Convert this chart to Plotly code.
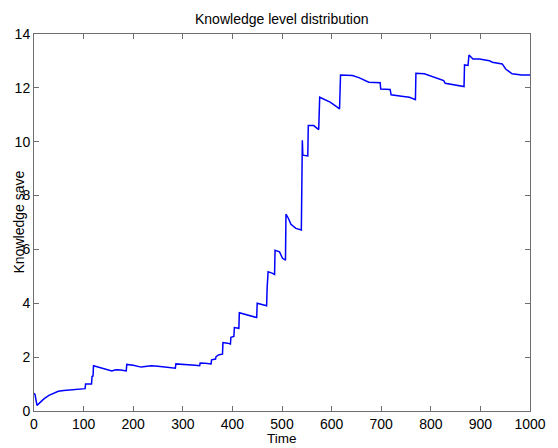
import plotly.graph_objects as go

time = [0, 2, 6, 12, 20, 30, 40, 49, 60, 75, 90, 103, 104, 116, 117, 119, 120, 130, 145, 157,
        163, 167, 175, 186, 187, 200, 216, 225, 236, 250, 262, 275, 285, 286, 300, 314, 325, 334,
        335, 345, 357, 358, 366, 367, 373, 380, 381, 390, 396, 397, 403, 404, 413, 414, 430, 440,
        449, 450, 460, 469, 470, 472, 480, 485, 486, 495, 501, 507, 508, 513, 518, 528, 539, 541,
        542, 552, 553, 564, 574, 576, 586, 597, 610, 616, 618, 642, 655, 662, 675, 698, 699, 718,
        720, 741, 757, 769, 770, 787, 806, 826, 829, 846, 867, 868, 875, 877, 885, 898, 918, 924,
        944, 951, 964, 983, 1000]
knowledge = [0.66, 0.62, 0.21, 0.32, 0.45, 0.58, 0.65, 0.73, 0.76, 0.79, 0.81, 0.83, 1.0, 1.0, 1.28,
             1.3, 1.68, 1.63, 1.55, 1.49, 1.52, 1.53, 1.52, 1.49, 1.73, 1.70, 1.63, 1.64, 1.68, 1.66,
             1.63, 1.61, 1.59, 1.75, 1.74, 1.72, 1.70, 1.68, 1.78, 1.77, 1.75, 1.90, 1.93, 2.02, 2.09,
             2.11, 2.54, 2.52, 2.49, 2.74, 2.77, 3.10, 3.07, 3.65, 3.58, 3.53, 3.47, 4.0, 3.96, 3.91,
             4.56, 5.17, 5.12, 5.07, 5.97, 5.91, 5.67, 5.6, 7.31, 7.15, 6.93, 6.78, 6.72, 10.05, 9.5,
             9.47, 10.6, 10.6, 10.45, 11.65, 11.55, 11.47, 11.3, 11.22, 12.48, 12.46, 12.38, 12.33,
             12.21, 12.19, 11.96, 11.94, 11.74, 11.69, 11.65, 11.56, 12.54, 12.52, 12.4, 12.27, 12.17,
             12.11, 12.05, 12.85, 12.83, 13.22, 13.07, 13.07, 13.01, 12.95, 12.89, 12.7, 12.52, 12.48,
             12.48]

title_text = "Knowledge level distribution"
xlabel = "Time"
ylabel = "Knowledge save"

font = dict(family="Liberation Sans, Arial, sans-serif", size=14, color="#000000")
xlabel_font = dict(family="Liberation Sans, Arial, sans-serif", size=13.5, color="#000000")
axis_color = "#6e6e6e"

fig = go.Figure()
fig.add_trace(go.Scatter(x=time, y=knowledge, mode="lines",
                         line=dict(color="#0000ff", width=1.5), showlegend=False))

common = dict(showline=True, linecolor=axis_color, linewidth=1, mirror="ticks",
              ticks="inside", ticklen=5, tickcolor=axis_color, showgrid=False,
              zeroline=False, tickfont=font)
fig.update_xaxes(range=[0, 1000], dtick=100, tick0=0, **common)
fig.update_yaxes(range=[0, 14], dtick=2, tick0=0, **common)

fig.update_layout(
    width=558, height=448,
    margin=dict(l=34, r=16, t=34, b=37),
    paper_bgcolor="white", plot_bgcolor="white",
    font=font,
    annotations=[
        dict(text=title_text, x=0.5, y=1, xref="paper", yref="paper",
             xanchor="center", yanchor="middle", yshift=15, showarrow=False, font=font),
        dict(text=xlabel, x=0.5, y=0, xref="paper", yref="paper", borderpad=0,
             xanchor="center", yanchor="bottom", yshift=-36, showarrow=False, font=xlabel_font),
        dict(text=ylabel, x=0, y=0.5, xref="paper", yref="paper", textangle=-90,
             xanchor="center", yanchor="middle", xshift=-16, showarrow=False, font=font),
    ],
)

fig.write_html("out.html")
